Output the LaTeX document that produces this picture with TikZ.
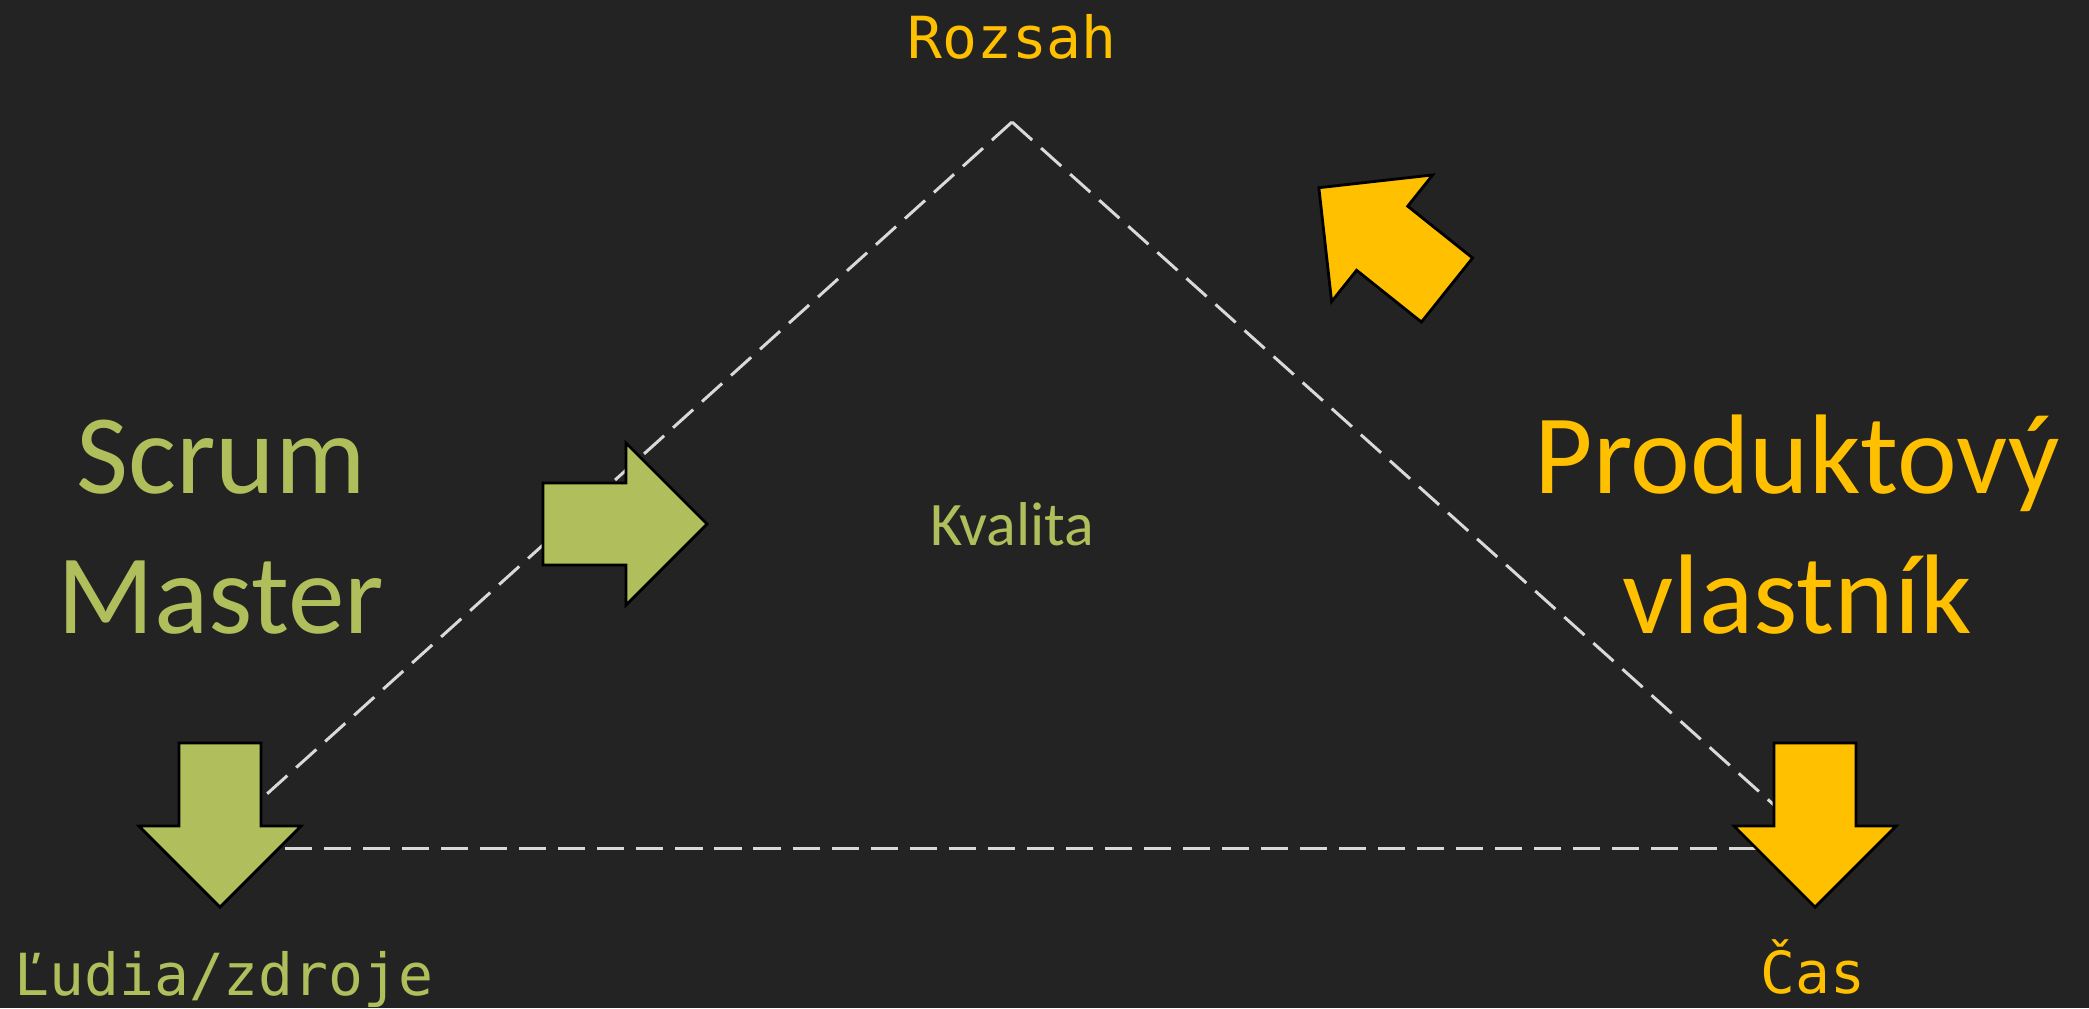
\documentclass[tikz,border=0pt]{standalone}
\usepackage{fontspec}
\setmainfont{Carlito}
\newfontfamily\codefont{DejaVu Sans Mono}
\usepackage{tikz}
\definecolor{boardgray}{HTML}{232323}
\definecolor{chalkline}{HTML}{D9D9D9}
\definecolor{smgreen}{HTML}{B0BF5B}
\definecolor{poyellow}{HTML}{FFC000}
\tikzset{
	side/.style={draw=chalkline, line width=0.85pt, dash pattern=on 7.7pt off 3.4pt},
	corner/.style={inner sep=0pt, anchor=base, font=\codefont\fontsize{16.5}{19}\selectfont},
	role/.style={inner sep=0pt, anchor=base, align=center, font=\fontsize{32.2}{39.8}\selectfont},
	pics/bigarrow/.style={code={
		\draw[pic actions, draw=black, line width=0.8pt, line join=miter] (0,-41) -- (83,-41) -- (83,-81) -- (164,0) -- (83,81) -- (83,41) -- (0,41) -- cycle;
	}}
}
\begin{document}
\begin{tikzpicture}[x=0.01cm, y=-0.01cm]
						\fill[boardgray] (0,0) rectangle (2089,1008);
						\useasboundingbox (0,0) rectangle (2089,1008);
						\coordinate (top) at (1012,122);
						\coordinate (left) at (207,848);
						\coordinate (right) at (1822,848);
						\draw[side] (top) -- (left);
						\draw[side] (top) -- (right);
						\draw[side] (left) -- (right);
						\node[corner, text=poyellow] (rozsah) at (1012,58) {Rozsah};
						\node[corner, text=smgreen] (ludia) at (224,995) {Ľudia/zdroje};
						\node[corner, text=poyellow] (cas) at (1813,993) {Čas};
						\node[inner sep=0pt, anchor=base, text=smgreen, font=\fontsize{17.6}{20}\selectfont] (kvalita) at (1012,545) {Kvalita};
						\node[role, text=smgreen] (sm) at (221,633) {Scrum\\Master};
						\node[role, text=poyellow] (po) at (1797,633) {Produktový\\vlastník};
						\pic[fill=smgreen] (smright) at (543,524) {bigarrow};
						\pic[fill=smgreen, rotate=-90] (smdown) at (220,743) {bigarrow};
						\pic[fill=poyellow, rotate=-90] (podown) at (1815,743) {bigarrow};
						\pic[fill=poyellow, rotate=141.4] (poup) at (1447,290) {bigarrow};
					\end{tikzpicture}
\end{document}
